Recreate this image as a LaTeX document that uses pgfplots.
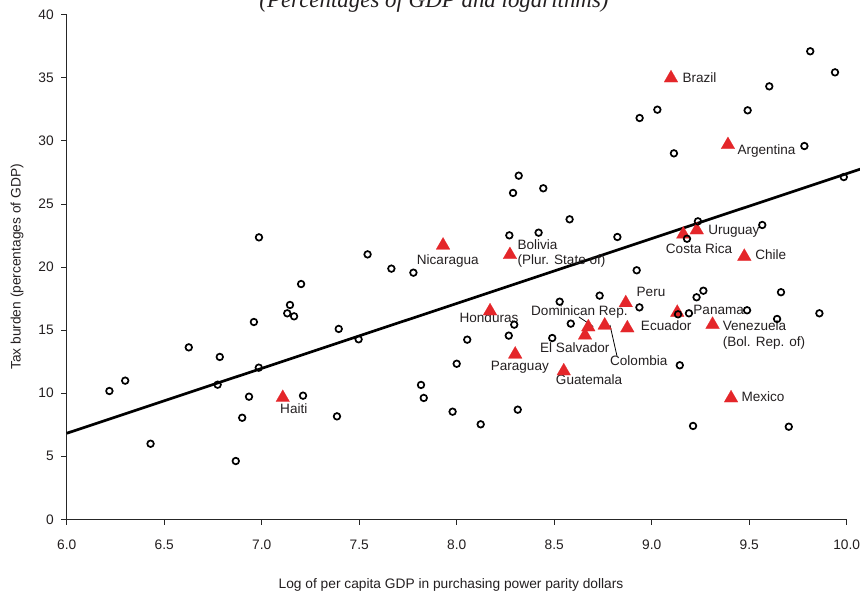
\documentclass[border=0pt]{standalone}
\usepackage{fontspec}
\setmainfont{Liberation Sans}
\newfontfamily\titlefont{Liberation Serif}
\usepackage{pgfplots}
\pgfplotsset{compat=1.18}
\pgfplotsset{/pgf/number format/assume math mode=true}
\definecolor{tri}{RGB}{228,38,42}
\definecolor{txt}{RGB}{35,31,32}
\pgfplotstableread{
x y
6.219 10.17
6.30 10.99
6.43 5.99
6.626 13.63
6.785 12.87
6.774 10.67
6.96 15.64
6.985 12.02
6.935 9.72
6.90 8.05
6.867 4.62
6.986 22.35
7.145 16.99
7.131 16.33
7.166 16.09
7.212 9.80
7.202 18.65
7.395 15.09
7.386 8.16
7.497 14.27
7.543 21.00
7.665 19.87
7.778 19.55
7.817 10.65
7.831 9.62
8.000 12.33
7.979 8.53
8.054 14.24
8.123 7.53
8.267 14.56
8.295 15.43
8.27 22.51
8.289 25.87
8.318 27.24
8.444 26.24
8.42 22.72
8.313 8.69
8.49 14.37
8.528 17.25
8.585 15.51
8.579 23.78
8.733 17.73
8.824 22.38
8.923 19.74
8.937 16.80
8.938 31.81
9.029 32.47
9.114 29.01
9.135 16.25
9.191 16.33
9.23 17.60
9.265 18.12
9.237 23.62
9.181 22.24
9.144 12.21
9.212 7.40
9.489 16.57
9.492 32.42
9.567 23.33
9.603 34.32
9.643 15.88
9.663 18.00
9.703 7.34
9.783 29.59
9.813 37.10
9.86 16.33
9.94 35.43
9.985 27.13
}\others
\pgfplotstableread{
x y
7.108 9.64
7.930 21.72
8.273 20.97
8.171 16.51
8.300 13.08
8.549 11.75
8.658 14.58
8.675 15.24
8.759 15.38
8.867 17.15
8.875 15.16
9.131 16.39
9.312 15.44
9.407 9.61
9.162 22.59
9.231 22.93
9.475 20.83
9.391 29.69
9.099 34.98
}\latam
\begin{document}
\begin{tikzpicture}
\useasboundingbox (0bp,0bp) rectangle (860bp,592bp);
\clip (0bp,0bp) rectangle (860bp,592bp);
\node[anchor=base, inner sep=0pt, font=\titlefont\itshape\fontsize{23}{26}\selectfont, text=txt] at (434bp,584.7bp) {(Percentages of GDP and logarithms)};
\begin{axis}[
  at={(66.7bp,72.7bp)}, anchor=south west, scale only axis,
  width=780bp, height=504.6bp,
  xmin=6, xmax=10, ymin=0, ymax=40,
  axis x line=bottom, axis y line=left,
  axis line style={-, line width=0.8pt, color=black!85},
  tick align=outside, major tick length=5.5bp,
  tick style={line width=0.8pt, color=black!85},
  xtick={6,6.5,7,7.5,8,8.5,9,9.5,10}, ytick={0,5,10,15,20,25,30,35,40},
  tick label style={font=\fontsize{13.8}{16}\selectfont, text=txt},
  yticklabel style={xshift=-4bp},
  xticklabel style={yshift=-12bp, /pgf/number format/.cd, fixed, fixed zerofill, precision=1},
  xlabel={Log of per capita GDP in purchasing power parity dollars},
  ylabel={Tax burden (percentages of GDP)},
  xlabel style={at={(axis description cs:0.4927,0)}, anchor=base, yshift=-68.7bp, font=\fontsize{13.8}{16}\selectfont, text=txt},
  ylabel style={at={(axis description cs:-0.0637,0.5)}, anchor=center, font=\fontsize{13.8}{16}\selectfont, text=txt},
  clip=false,
]
\addplot[tri, only marks, mark=triangle*, mark size=8pt, mark options={fill=tri, draw=tri, line width=0.1pt}] table[x=x,y=y]{\latam};
\addplot[black, only marks, mark=o, mark size=3.3pt, mark options={draw=black, line width=1.7pt}] table[x=x,y=y]{\others};
\addplot[black, line width=2.7pt, no marks] coordinates {(6,6.82) (10.07,27.76)};
\draw[black, line width=0.8pt] (axis cs:8.627,16.04) -- (axis cs:8.700,15.28);
\draw[black, line width=0.8pt] (axis cs:8.786,15.40) -- (axis cs:8.822,12.94);
\begin{scope}[every node/.style={anchor=base west, inner sep=0pt, text=txt, font=\fontsize{13.6}{16}\selectfont}]
\node at (axis cs:9.157,34.66) {Brazil};
\node at (axis cs:9.439,28.88) {Argentina};
\node at (axis cs:9.289,22.54) {Uruguay};
\node at (axis cs:9.072,21.09) {Costa Rica};
\node at (axis cs:9.530,20.63) {Chile};
\node at (axis cs:8.311,21.40) {Bolivia};
\node at (axis cs:8.311,20.20) {(Plur. State of)};
\node at (axis cs:7.795,20.21) {Nicaragua};
\node at (axis cs:8.922,17.65) {Peru};
\node at (axis cs:8.014,15.58) {Honduras};
\node at (axis cs:8.381,16.12) {Dominican Rep.};
\node at (axis cs:8.944,14.95) {Ecuador};
\node at (axis cs:9.213,16.25) {Panama};
\node at (axis cs:9.364,14.95) {Venezuela};
\node at (axis cs:9.364,13.70) {(Bol. Rep. of)};
\node at (axis cs:8.427,13.26) {El Salvador};
\node at (axis cs:8.786,12.18) {Colombia};
\node at (axis cs:8.174,11.80) {Paraguay};
\node at (axis cs:8.508,10.67) {Guatemala};
\node at (axis cs:9.460,9.30) {Mexico};
\node at (axis cs:7.094,8.35) {Haiti};
\end{scope}
\end{axis}
\end{tikzpicture}
\end{document}
